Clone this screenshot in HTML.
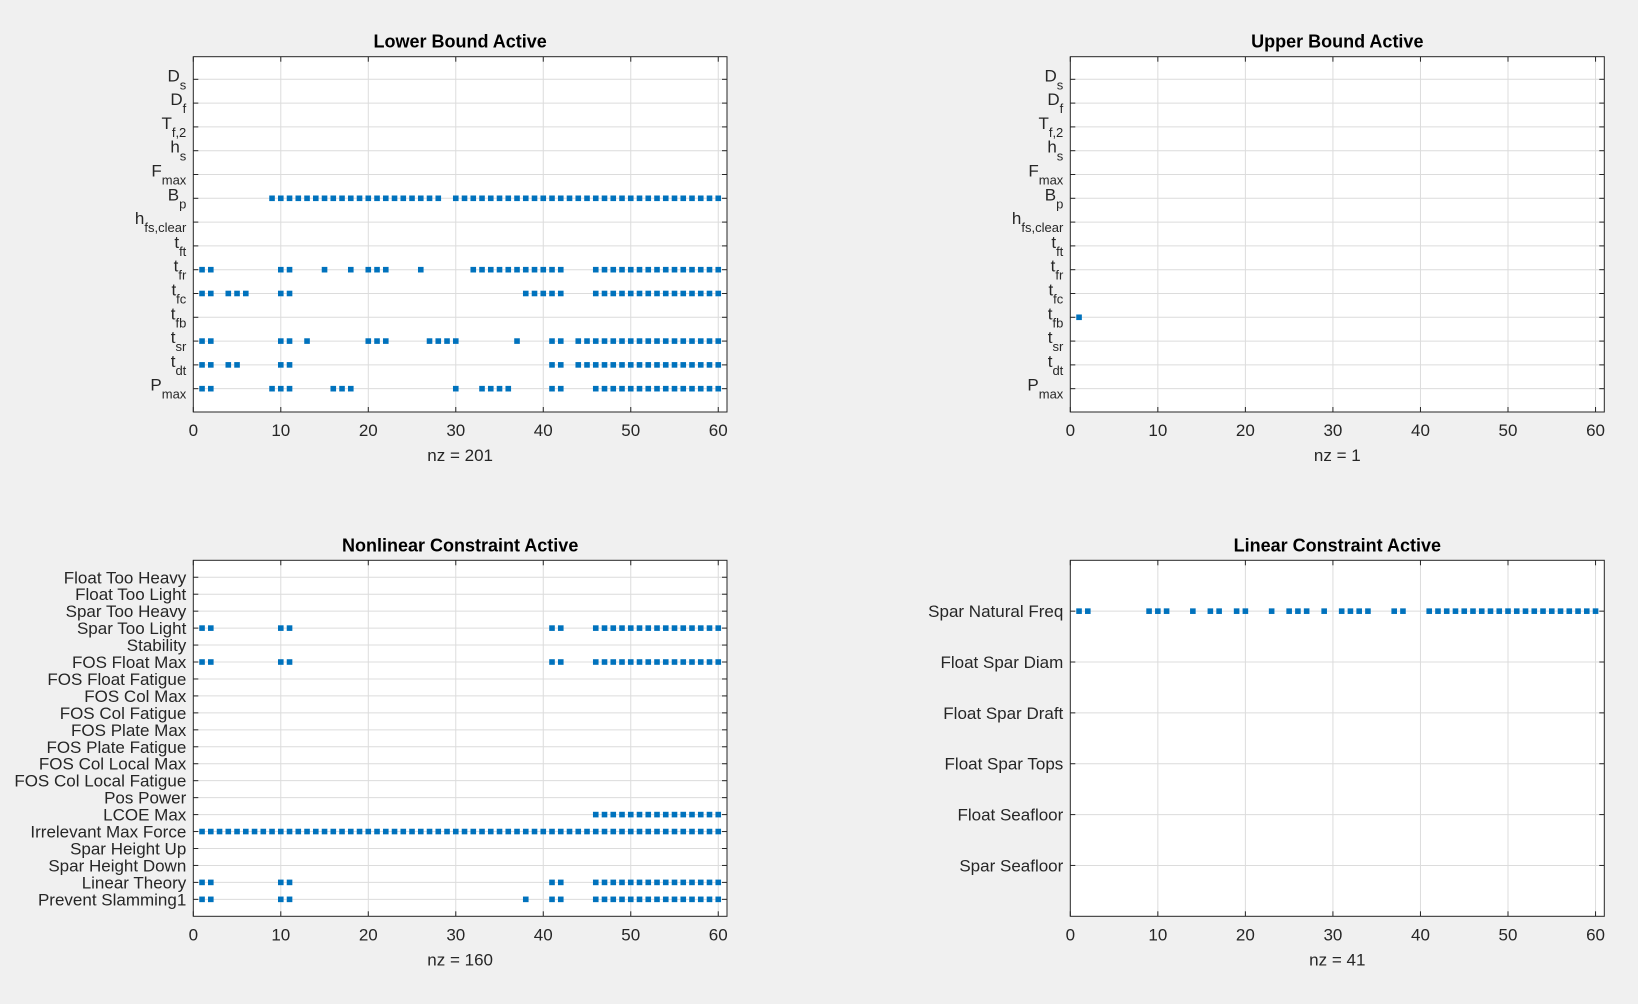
<!DOCTYPE html>
<html><head><meta charset="utf-8">
<style>
html,body{margin:0;padding:0;background:#f0f0f0;}
svg{display:block;font-family:"Liberation Sans",Arial,sans-serif;}
</style></head>
<body>
<svg id="fig" width="1638" height="1004" viewBox="0 0 1638 1004" xmlns="http://www.w3.org/2000/svg">
<rect x="0" y="0" width="1638" height="1004" fill="#f0f0f0"/>
</svg>
<script>
// ---- data ----
const xTicks = [0,10,20,30,40,50,60];
const lbLabels = [["D","s"],["D","f"],["T","f,2"],["h","s"],["F","max"],["B","p"],["h","fs,clear"],["t","ft"],["t","fr"],["t","fc"],["t","fb"],["t","sr"],["t","dt"],["P","max"]];
const lbRow6 = [9,10,11,12,13,14,15,16,17,18,19,20,21,22,23,24,25,26,27,28,30,31,32,33,34,35,36,37,38,39,40,41,42,43,44,45,46,47,48,49,50,51,52,53,54,55,56,57,58,59,60];
const lbRow9 = [1,2,10,11,15,18,20,21,22,26,32,33,34,35,36,37,38,39,40,41,42,46,47,48,49,50,51,52,53,54,55,56,57,58,59,60];
const lbRow10 = [1,2,4,5,6,10,11,38,39,40,41,42,46,47,48,49,50,51,52,53,54,55,56,57,58,59,60];
const lbRow12 = [1,2,10,11,13,20,21,22,27,28,29,30,37,41,42,44,45,46,47,48,49,50,51,52,53,54,55,56,57,58,59,60];
const lbRow13 = [1,2,4,5,10,11,41,42,44,45,46,47,48,49,50,51,52,53,54,55,56,57,58,59,60];
const lbRow14 = [1,2,9,10,11,16,17,18,30,33,34,35,36,41,42,46,47,48,49,50,51,52,53,54,55,56,57,58,59,60];
const ubRow11 = [1];
const nlLabels = ["Float Too Heavy","Float Too Light","Spar Too Heavy","Spar Too Light","Stability","FOS Float Max","FOS Float Fatigue","FOS Col Max","FOS Col Fatigue","FOS Plate Max","FOS Plate Fatigue","FOS Col Local Max","FOS Col Local Fatigue","Pos Power","LCOE Max","Irrelevant Max Force","Spar Height Up","Spar Height Down","Linear Theory","Prevent Slamming1"];
const nlRow4 = [1,2,10,11,41,42,46,47,48,49,50,51,52,53,54,55,56,57,58,59,60];
const nlRow6 = [1,2,10,11,41,42,46,47,48,49,50,51,52,53,54,55,56,57,58,59,60];
const nlRow15 = [46,47,48,49,50,51,52,53,54,55,56,57,58,59,60];
const nlRow16 = [1,2,3,4,5,6,7,8,9,10,11,12,13,14,15,16,17,18,19,20,21,22,23,24,25,26,27,28,29,30,31,32,33,34,35,36,37,38,39,40,41,42,43,44,45,46,47,48,49,50,51,52,53,54,55,56,57,58,59,60];
const nlRow19 = [1,2,10,11,41,42,46,47,48,49,50,51,52,53,54,55,56,57,58,59,60];
const nlRow20 = [1,2,10,11,38,41,42,46,47,48,49,50,51,52,53,54,55,56,57,58,59,60];
const linLabels = ["Spar Natural Freq","Float Spar Diam","Float Spar Draft","Float Spar Tops","Float Seafloor","Spar Seafloor"];
const linRow1 = [1,2,9,10,11,14,16,17,19,20,23,25,26,27,29,31,32,33,34,37,38,41,42,43,44,45,46,47,48,49,50,51,52,53,54,55,56,57,58,59,60];

const NS = "http://www.w3.org/2000/svg";
const fig = document.getElementById('fig');
function mk(tag, attrs, parent){ const e=document.createElementNS(NS,tag); for(const k in attrs) e.setAttribute(k,attrs[k]); (parent||fig).appendChild(e); return e; }

function panel(cfg){
  const g = mk('g',{});
  
  
  const {L,R,T,B,ylo,yhi} = cfg;
  const xs = v => L + (v-0)/(61-0)*(R-L);
  const ys = v => T + (v-ylo)/(yhi-ylo)*(B-T);
  const bg = mk('rect',{x:L,y:T,width:R-L,height:B-T,fill:'#fff'},g);
  
  
  xTicks.forEach(t=>{ const x=xs(t); if(t>0) mk('line',{x1:x,y1:T,x2:x,y2:B,stroke:'#dcdcdc','stroke-width':1},g); });
  cfg.labels.forEach((lab,i)=>{ const y=ys(i+1); mk('line',{x1:L,y1:y,x2:R,y2:y,stroke:'#dcdcdc','stroke-width':1},g); });
  xTicks.forEach(t=>{ const x=xs(t);
    mk('line',{x1:x,y1:B,x2:x,y2:B-5,stroke:'#262626'},g);
    mk('line',{x1:x,y1:T,x2:x,y2:T+5,stroke:'#262626'},g);
    const tx=mk('text',{x:x,y:B+24,'text-anchor':'middle','font-size':17,fill:'#262626'},g);
    tx.textContent=t;
    
    
  });
  cfg.labels.forEach((lab,i)=>{ const y=ys(i+1);
    mk('line',{x1:L,y1:y,x2:L+5,y2:y,stroke:'#262626'},g);
    mk('line',{x1:R,y1:y,x2:R-5,y2:y,stroke:'#262626'},g);
    const tx=mk('text',{x:L-7,y:y+6,'text-anchor':'end','font-size':17,fill:'#262626'},g);
    
    
    if(Array.isArray(lab)){
      const a=mk('tspan',{},tx); a.textContent=lab[0];
      const b=mk('tspan',{'font-size':13,dy:8},tx); b.textContent=lab[1];
      tx.setAttribute('y', y+2);
    } else tx.textContent=lab;
  });
  cfg.rows.forEach(([r,arr])=>{
    arr.forEach(c=>{
      const m=mk('rect',{x:xs(c)-2.8,y:ys(r)-2.8,width:5.6,height:5.6,fill:'#0072bd'},g);
      
      
    });
  });
  mk('rect',{x:L,y:T,width:R-L,height:B-T,fill:'none',stroke:'#262626','stroke-width':1},g);
  const tt=mk('text',{x:(L+R)/2,y:T-9,'text-anchor':'middle','font-size':18,'font-weight':'bold',fill:'#000'},g);
  tt.textContent=cfg.title;
  
  
  const xl=mk('text',{x:(L+R)/2,y:B+49,'text-anchor':'middle','font-size':17,fill:'#262626'},g);
  xl.textContent='nz = '+cfg.rows.reduce((s,r)=>s+r[1].length,0);
  
  
}

panel({name:'lower-bound-panel',title:'Lower Bound Active',L:193.3,R:727,T:56.7,B:412,ylo:0.05,yhi:14.98,labels:lbLabels,
  rows:[[6,lbRow6],[9,lbRow9],[10,lbRow10],[12,lbRow12],[13,lbRow13],[14,lbRow14]]});
panel({name:'upper-bound-panel',title:'Upper Bound Active',L:1070.3,R:1604.3,T:56.7,B:412,ylo:0.05,yhi:14.98,labels:lbLabels,
  rows:[[11,ubRow11]]});
panel({name:'nonlinear-constraint-panel',title:'Nonlinear Constraint Active',L:193.3,R:727,T:560.3,B:916.3,ylo:0,yhi:21,labels:nlLabels,
  rows:[[4,nlRow4],[6,nlRow6],[15,nlRow15],[16,nlRow16],[19,nlRow19],[20,nlRow20]]});
panel({name:'linear-constraint-panel',title:'Linear Constraint Active',L:1070.3,R:1604.3,T:560.3,B:916.3,ylo:0,yhi:7,labels:linLabels,
  rows:[[1,linRow1]]});
</script>
</body></html>
